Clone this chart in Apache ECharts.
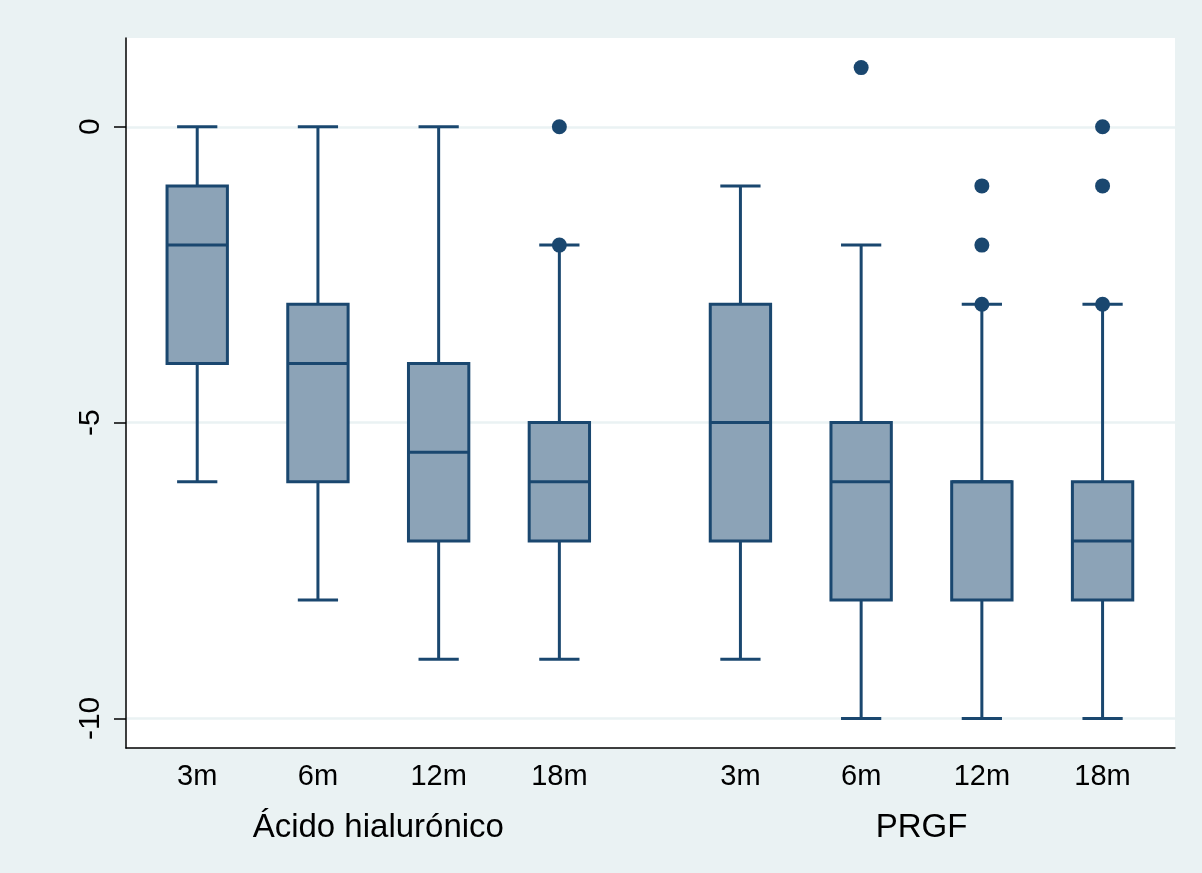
<!DOCTYPE html>
<html>
<head>
<meta charset="utf-8">
<title>Box plot</title>
<script src="https://cdn.jsdelivr.net/npm/echarts@6/dist/echarts.min.js"></script>
<style>
  html, body { margin: 0; padding: 0; background: #EAF2F3; }
  #chart { width: 1202px; height: 873px; }
</style>
</head>
<body>
<div id="chart"></div>
<script>
// Groups and follow-up periods
const groups = ['Ácido hialurónico', 'PRGF'];
const periods = ['3m', '6m', '12m', '18m'];

// Box statistics, one entry per group/period (group-major order)
const lowerWhisker = [-6, -8, -9, -9, -9, -10, -10, -10];
const quartile1    = [-4, -6, -7, -7, -7, -8, -8, -8];
const medians      = [-2, -4, -5.5, -6, -5, -6, -6, -7];
const quartile3    = [-1, -3, -4, -5, -3, -5, -6, -6];
const upperWhisker = [0, 0, 0, -2, -1, -2, -3, -3];

// Points drawn individually beyond/at the whiskers
const outsideValues = [[], [], [], [0, -2], [], [1], [-1, -2, -3], [0, -1, -3]];

// Y axis ticks
const yTicks = [-10, -5, 0];

// Layout helpers: boxes one unit apart, groups separated by an extra half unit
const GROUP_STRIDE = periods.length + 0.5;
function boxX(g, i) { return g * GROUP_STRIDE + i + 1; }

const boxData = [];
const labelPos = [];
const labelText = {};
const outlierData = [];
groups.forEach(function (g, gi) {
  periods.forEach(function (p, pi) {
    const k = gi * periods.length + pi;
    const x = boxX(gi, pi);
    boxData.push([x, lowerWhisker[k], quartile1[k], medians[k], quartile3[k], upperWhisker[k]]);
    labelPos.push(x);
    labelText[x] = p;
    outsideValues[k].forEach(function (v) { outlierData.push([x, v]); });
  });
});
const groupCenters = groups.map(function (g, gi) {
  return (boxX(gi, 0) + boxX(gi, periods.length - 1)) / 2;
});
const groupText = {};
groupCenters.forEach(function (c, gi) { groupText[c] = groups[gi]; });

const NAVY = '#1A476F';
const FILL = '#8CA3B7';
const FONT = '"Liberation Sans", Arial, sans-serif';
const BOX_HALF = 0.25;
const CAP_HALF = 1 / 6;

function renderBox(params, api) {
  const x = api.value(0);
  const lw = api.value(1), q1 = api.value(2), md = api.value(3), q3 = api.value(4), uw = api.value(5);
  const tl = api.coord([x - BOX_HALF, q3]);
  const br = api.coord([x + BOX_HALF, q1]);
  const lineStyle = { stroke: NAVY, lineWidth: 3 };
  function seg(a, b) {
    const p1 = api.coord(a), p2 = api.coord(b);
    return { type: 'line', shape: { x1: p1[0], y1: p1[1], x2: p2[0], y2: p2[1] }, style: lineStyle };
  }
  return {
    type: 'group',
    children: [
      seg([x, q3], [x, uw]),
      seg([x, q1], [x, lw]),
      seg([x - CAP_HALF, uw], [x + CAP_HALF, uw]),
      seg([x - CAP_HALF, lw], [x + CAP_HALF, lw]),
      {
        type: 'rect',
        shape: { x: tl[0], y: tl[1], width: br[0] - tl[0], height: br[1] - tl[1] },
        style: { fill: FILL, stroke: NAVY, lineWidth: 3 }
      },
      seg([x - BOX_HALF, md], [x + BOX_HALF, md])
    ]
  };
}

const chart = echarts.init(document.getElementById('chart'), null, { renderer: 'canvas' });
chart.setOption({
  backgroundColor: '#EAF2F3',
  animation: false,
  grid: {
    left: 126, right: 27, top: 38, bottom: 125,
    show: true, backgroundColor: '#FFFFFF', borderWidth: 0
  },
  xAxis: [{
    type: 'value',
    min: 0.41, max: 9.1,
    position: 'bottom',
    axisLine: { show: true, onZero: false, lineStyle: { color: '#000', width: 1.5 } },
    axisTick: { show: false },
    splitLine: { show: false },
    axisLabel: {
      customValues: labelPos,
      formatter: function (v) { return labelText[v] || ''; },
      color: '#000', fontSize: 29, fontFamily: FONT, margin: 14
    }
  }, {
    type: 'value',
    min: 0.41, max: 9.1,
    position: 'bottom',
    axisLine: { show: false, onZero: false },
    axisTick: { show: false },
    splitLine: { show: false },
    axisLabel: {
      customValues: groupCenters,
      formatter: function (v) { return groupText[v] || ''; },
      color: '#000', fontSize: 33, fontFamily: FONT, margin: 63
    }
  }],
  yAxis: {
    type: 'value',
    min: -10.5, max: 1.5,
    axisLine: { show: true, onZero: false, lineStyle: { color: '#000', width: 1.5 } },
    axisTick: { show: true, customValues: yTicks, length: 12, lineStyle: { color: '#000', width: 1.5 } },
    splitLine: { show: true, lineStyle: { color: '#EAF2F3', width: 2.5 } },
    axisLabel: {
      customValues: yTicks,
      rotate: 90,
      color: '#000', fontSize: 30, fontFamily: FONT, margin: 20
    }
  },
  series: [{
    type: 'custom',
    name: 'boxes',
    xAxisIndex: 0,
    renderItem: renderBox,
    dimensions: ['x', 'lw', 'q1', 'med', 'q3', 'uw'],
    encode: { x: 0, y: [1, 2, 3, 4, 5] },
    data: boxData,
    z: 2
  }, {
    type: 'scatter',
    name: 'outside values',
    xAxisIndex: 0,
    data: outlierData,
    symbol: 'circle',
    symbolSize: 15,
    itemStyle: { color: NAVY, opacity: 1 },
    z: 3
  }]
});
</script>
</body>
</html>
